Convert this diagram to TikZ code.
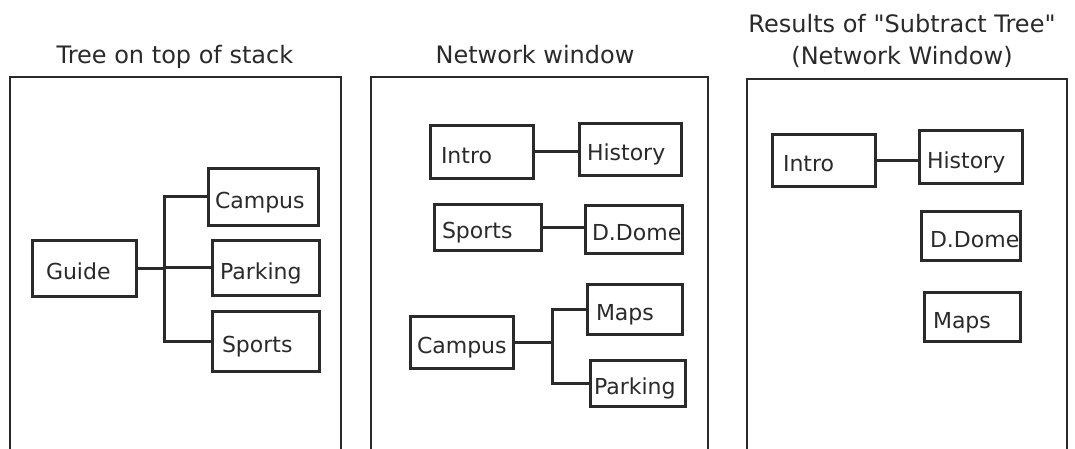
\documentclass[tikz,border=0pt]{standalone}
\usepackage{fontspec}
\newfontfamily\dvs{DejaVu Sans}
\definecolor{ink}{HTML}{2A2A2A}
\begin{document}
\begin{tikzpicture}[x=1pt,y=-1pt,
  tbox/.style={draw=ink, line width=3pt, text=ink, rectangle,
    font=\dvs\fontsize{22}{26}\selectfont, inner ysep=0pt,
    text height=23pt, text depth=0pt},
  conn/.style={draw=ink, line width=3pt},
  frame/.style={draw=ink, line width=2.6pt},
  ttl/.style={text=ink, font=\dvs\fontsize{24}{32}\selectfont, anchor=base, inner sep=0pt}]
\useasboundingbox (0,0) rectangle (1075,448);
\clip (0,0) rectangle (1075,448);
\fill[white] (0,0) rectangle (1075,448);

% ---------- titles ----------
\node[ttl] (t1) at (175,63) {Tree on top of stack};
\node[ttl] (t2) at (535,63) {Network window};
\node[ttl] (t3a) at (902,32) {Results of "Subtract Tree"};
\node[ttl] (t3b) at (902,64) {(Network Window)};

% ---------- frames ----------
\draw[frame] (10,470) -- (10,77) -- (341,77) -- (341,470);
\draw[frame] (371,470) -- (371,77) -- (708,77) -- (708,470);
\draw[frame] (747,470) -- (747,79) -- (1067,79) -- (1067,470);

% ---------- panel 1 ----------
\node[tbox, inner xsep=7pt, minimum height=57pt] (campusA) at (263,196.5) {\makebox[96pt][l]{Campus}};
\node[tbox, inner xsep=8pt, minimum height=55pt] (parkingA) at (265.5,267.5) {\makebox[91pt][l]{Parking}};
\node[tbox, inner xsep=10pt, minimum height=60pt] (sportsA) at (265.5,341) {\makebox[87pt][l]{Sports}};
\node[tbox, inner xsep=14pt, minimum height=56pt] (guide) at (84,268) {\makebox[76pt][l]{Guide}};
\coordinate (j1) at (164,268);
\draw[conn] (guide.east) -- (j1);
\draw[conn] (campusA.west) -| (j1);
\draw[conn] (j1) -- (parkingA.west -| j1) -- (parkingA.west);
\draw[conn] (sportsA.west) -| (j1);

% ---------- panel 2 ----------
\node[tbox, inner xsep=11pt, minimum height=53pt] (intro2) at (481.5,151.5) {\makebox[81pt][l]{Intro}};
\node[tbox, inner xsep=8pt, minimum height=52pt] (history2) at (630,149) {\makebox[86pt][l]{History}};
\node[tbox, inner xsep=8pt, minimum height=46pt] (sports2) at (487.5,227) {\makebox[91pt][l]{Sports}};
\node[tbox, inner xsep=7pt, minimum height=48pt] (ddome2) at (633.5,229) {\makebox[83pt][l]{D.Dome}};
\node[tbox, inner xsep=7pt, minimum height=52pt] (campus2) at (461.5,342) {\makebox[89pt][l]{Campus}};
\node[tbox, inner xsep=9pt, minimum height=50pt] (maps2) at (634.5,309) {\makebox[77pt][l]{Maps}};
\node[tbox, inner xsep=4pt, minimum height=46pt] (parking2) at (637.5,383) {\makebox[87pt][l]{Parking}};
\draw[conn] (intro2.east) -- (intro2.east -| history2.west);
\draw[conn] (sports2.east) -- (sports2.east -| ddome2.west);
\coordinate (j2) at (552,342);
\draw[conn] (campus2.east) -- (j2);
\draw[conn] (maps2.west) -| (j2);
\draw[conn] (parking2.west) -| (j2);

% ---------- panel 3 ----------
\node[tbox, inner xsep=11pt, minimum height=52pt] (intro3) at (823.5,160) {\makebox[81pt][l]{Intro}};
\node[tbox, inner xsep=8pt, minimum height=53pt] (history3) at (970.5,156.5) {\makebox[87pt][l]{History}};
\node[tbox, inner xsep=9pt, minimum height=49pt] (ddome3) at (970.5,235.5) {\makebox[81pt][l]{D.Dome}};
\node[tbox, inner xsep=9pt, minimum height=49pt] (maps3) at (972,316.5) {\makebox[78pt][l]{Maps}};
\draw[conn] (intro3.east) -- (intro3.east -| history3.west);
\end{tikzpicture}
\end{document}
